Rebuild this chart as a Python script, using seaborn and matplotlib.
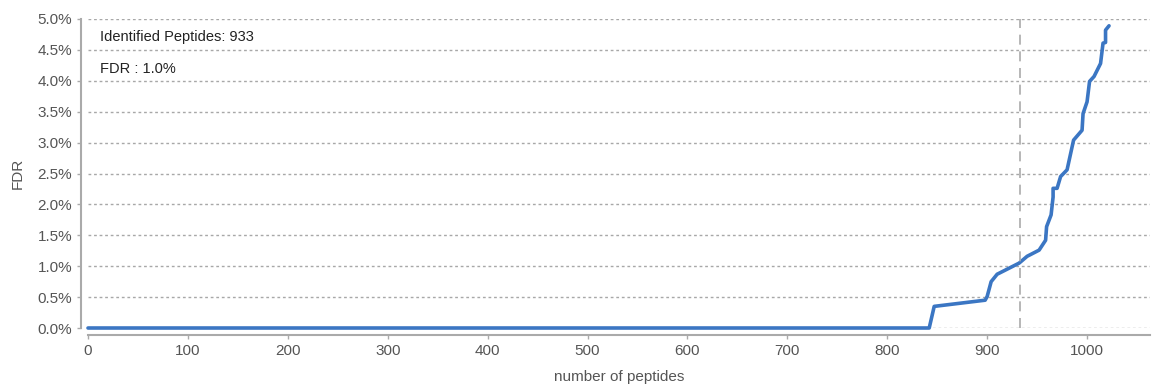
import numpy as np
import pandas as pd
import matplotlib
matplotlib.use("Agg")
import matplotlib.pyplot as plt
import seaborn as sns
from matplotlib.ticker import FuncFormatter, MultipleLocator

# FDR curve (x = number of peptides, y = FDR in %)
n_peptides = [0, 842, 847, 898, 900, 904, 910, 932, 940, 952, 958.5, 959.5,
              964, 966, 966, 970, 973.5, 980, 986.5, 995, 996, 1000, 1002.5,
              1007, 1013.5, 1016, 1018.5, 1018.5, 1022]
fdr = [0.0, 0.0, 0.35, 0.45, 0.51, 0.75, 0.87, 1.05, 1.16, 1.26, 1.42, 1.64,
       1.83, 2.12, 2.26, 2.26, 2.45, 2.56, 3.04, 3.20, 3.47, 3.66, 3.99,
       4.07, 4.28, 4.61, 4.62, 4.82, 4.89]

identified = 933
fdr_cut = 1.0

df = pd.DataFrame({"peptides": n_peptides, "fdr": fdr})

sns.set_style("white")
plt.rcParams['font.family'] = ['Liberation Sans', 'DejaVu Sans']

fig = plt.figure(figsize=(11.52, 3.87), dpi=100)
ax = fig.add_axes([88 / 1152, 59 / 387, 1062 / 1152, 309 / 387])

sns.lineplot(x="peptides", y="fdr", data=df, estimator=None, sort=False,
             color="#3b76c3", linewidth=2.6, ax=ax, clip_on=False)

ax.axvline(identified, color="#aaaaaa", linestyle=(0, (6, 4)), linewidth=1.2)

ax.set_xlim(0, 1063)
ax.set_ylim(0, 5.0)
ax.xaxis.set_major_locator(MultipleLocator(100))
ax.yaxis.set_major_locator(MultipleLocator(0.5))
ax.yaxis.set_major_formatter(FuncFormatter(lambda v, p: "%.1f%%" % v))

ax.yaxis.grid(True, linestyle=(0, (2, 2)), color="#a8a8a8", linewidth=1)
ax.xaxis.grid(False)
ax.set_axisbelow(True)

sns.despine(ax=ax, offset=5)
for s in ["left", "bottom"]:
    ax.spines[s].set_color("#aaaaaa")
    ax.spines[s].set_linewidth(1.5)

ax.tick_params(axis="both", colors="#aaaaaa", labelcolor="#555555",
               labelsize=11, length=3, width=1, direction="out", bottom=True, left=True)

ax.set_xlabel("number of peptides", fontsize=11, color="#555555", labelpad=9)
ax.set_ylabel("FDR", fontsize=11, color="#555555", labelpad=9)

ax.text(12, 4.71, "Identified Peptides: %d" % identified, fontsize=10.5,
        color="#222222", va="center")
ax.text(12, 4.19, "FDR : %.1f%%" % fdr_cut, fontsize=10.5,
        color="#222222", va="center")

fig.savefig("out.png", dpi=100)
